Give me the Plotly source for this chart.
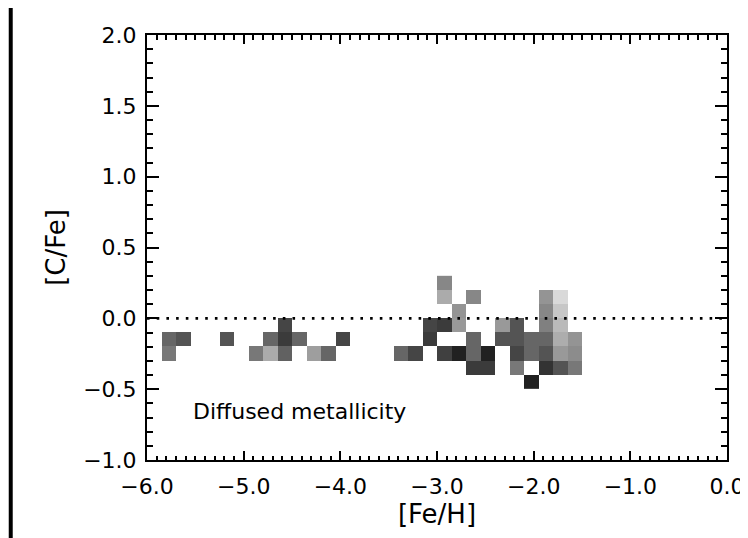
import plotly.graph_objects as go

# ---- data -------------------------------------------------------------
# [Fe/H] bin centres (bins of 0.15 dex) and [C/Fe] bin centres (bins of 0.1 dex)
feh_centres = [-5.925, -5.775, -5.625, -5.475, -5.325, -5.175, -5.025, -4.875, -4.725, -4.575,
               -4.425, -4.275, -4.125, -3.975, -3.825, -3.675, -3.525, -3.375, -3.225, -3.075,
               -2.925, -2.775, -2.625, -2.475, -2.325, -2.175, -2.025, -1.875, -1.725, -1.575]
cfe_centres = [-0.45, -0.35, -0.25, -0.15, -0.05, 0.05, 0.15, 0.25]

# occupied cells: [Fe/H] centre, [C/Fe] centre, relative density (0 = white, 1 = black)
cell_feh = [-5.775, -5.775, -5.625, -5.175, -4.875, -4.725, -4.725,
            -4.575, -4.575, -4.575, -4.425, -4.275, -4.125, -3.975,
            -3.375, -3.225, -3.075, -3.075,
            -2.925, -2.925, -2.925, -2.925,
            -2.775, -2.775, -2.775,
            -2.625, -2.625, -2.625, -2.625,
            -2.475, -2.475,
            -2.325, -2.325,
            -2.175, -2.175, -2.175, -2.175,
            -2.025, -2.025, -2.025,
            -1.875, -1.875, -1.875, -1.875, -1.875, -1.875,
            -1.725, -1.725, -1.725, -1.725, -1.725, -1.725,
            -1.575, -1.575, -1.575]
cell_cfe = [-0.15, -0.25, -0.15, -0.15, -0.25, -0.15, -0.25,
            -0.05, -0.15, -0.25, -0.15, -0.25, -0.25, -0.15,
            -0.25, -0.25, -0.05, -0.15,
            0.25, 0.15, -0.05, -0.25,
            0.05, -0.05, -0.25,
            0.15, -0.15, -0.25, -0.35,
            -0.25, -0.35,
            -0.05, -0.15,
            -0.05, -0.15, -0.25, -0.35,
            -0.15, -0.25, -0.45,
            0.15, 0.05, -0.05, -0.15, -0.25, -0.35,
            0.15, 0.05, -0.05, -0.15, -0.25, -0.35,
            -0.15, -0.25, -0.35]
cell_density = [0.60, 0.53, 0.67, 0.67, 0.53, 0.60, 0.33,
                0.73, 0.77, 0.62, 0.60, 0.38, 0.60, 0.73,
                0.60, 0.73, 0.73, 0.77,
                0.47, 0.33, 0.77, 0.75,
                0.42, 0.40, 0.87,
                0.47, 0.60, 0.60, 0.77,
                0.87, 0.77,
                0.40, 0.67,
                0.67, 0.67, 0.73, 0.53,
                0.60, 0.60, 0.87,
                0.42, 0.47, 0.50, 0.60, 0.67, 0.80,
                0.15, 0.22, 0.27, 0.32, 0.40, 0.67,
                0.42, 0.45, 0.53]

# solar reference line [C/Fe] = 0
ref_line_feh = [-6.0, 0.0]
ref_line_cfe = [0.0, 0.0]

x_ticks = [-6.0, -5.0, -4.0, -3.0, -2.0, -1.0, 0.0]
y_ticks = [-1.0, -0.5, 0.0, 0.5, 1.0, 1.5, 2.0]
label_text = "Diffused metallicity"

# ---- build grid ---------------------------------------------------------
def nearest(seq, v):
    return min(range(len(seq)), key=lambda i: abs(seq[i] - v))

z = [[None] * len(feh_centres) for _ in cfe_centres]
for f, c, d in zip(cell_feh, cell_cfe, cell_density):
    z[nearest(cfe_centres, c)][nearest(feh_centres, f)] = d

# page body adds an 8 px offset, so the figure is 8 px smaller than the window
W, H = 740, 530
L, R, T, B = 138.5, 20.5, 27, 78
FONT = "DejaVu Sans"

fig = go.Figure()
fig.add_trace(go.Heatmap(
    x=feh_centres, y=cfe_centres, z=z,
    colorscale=[[0, "#ffffff"], [1, "#000000"]], zmin=0, zmax=1,
    showscale=False, hoverongaps=False,
))
fig.add_trace(go.Scatter(
    x=ref_line_feh, y=ref_line_cfe, mode="lines",
    line=dict(color="black", width=2.6, dash="2.6px,7.1px"),
    showlegend=False, hoverinfo="skip",
))

fig.add_annotation(
    x=-5.55, y=-0.66, xref="x", yref="y", text=label_text, showarrow=False,
    xanchor="left", yanchor="middle", font=dict(family=FONT, size=22, color="black"),
)

axis_common = dict(
    showgrid=False, zeroline=False, showline=True, linecolor="black", linewidth=2,
    mirror="ticks", ticks="inside", tickcolor="black", tickwidth=2,
    tickformat=".1f", tickfont=dict(family=FONT, size=22, color="black"),
    automargin=False,
)
fig.update_xaxes(
    range=[-6, 0], tickvals=x_ticks, ticklen=9,
    minor=dict(dtick=0.1, ticks="inside", ticklen=4.5, tickwidth=1.6, tickcolor="black", showgrid=False),
    title=dict(text="[Fe/H]", font=dict(family=FONT, size=26, color="black"), standoff=2),
    ticklabelstandoff=6,
    **axis_common,
)
fig.update_yaxes(
    range=[-1, 2], tickvals=y_ticks, ticklen=12,
    minor=dict(dtick=0.1, ticks="inside", ticklen=6, tickwidth=1.6, tickcolor="black", showgrid=False),
    title=dict(text="[C/Fe]", font=dict(family=FONT, size=26, color="black"), standoff=10),
    ticklabelstandoff=4,
    **axis_common,
)

# black border of the original scan along the left edge
pw, ph = W - L - R, H - T - B
def px_x(p):
    return (p - L) / pw
def px_y(p):
    return (H - B - p) / ph

fig.add_shape(type="rect", xref="paper", yref="paper", x0=px_x(0), x1=px_x(4), y0=px_y(0), y1=px_y(H),
              fillcolor="black", line_width=0, layer="above")

fig.update_layout(
    width=W, height=H, margin=dict(l=L, r=R, t=T, b=B),
    paper_bgcolor="white", plot_bgcolor="white", showlegend=False,
    font=dict(family=FONT, color="black"),
)

fig.write_html("out.html")
